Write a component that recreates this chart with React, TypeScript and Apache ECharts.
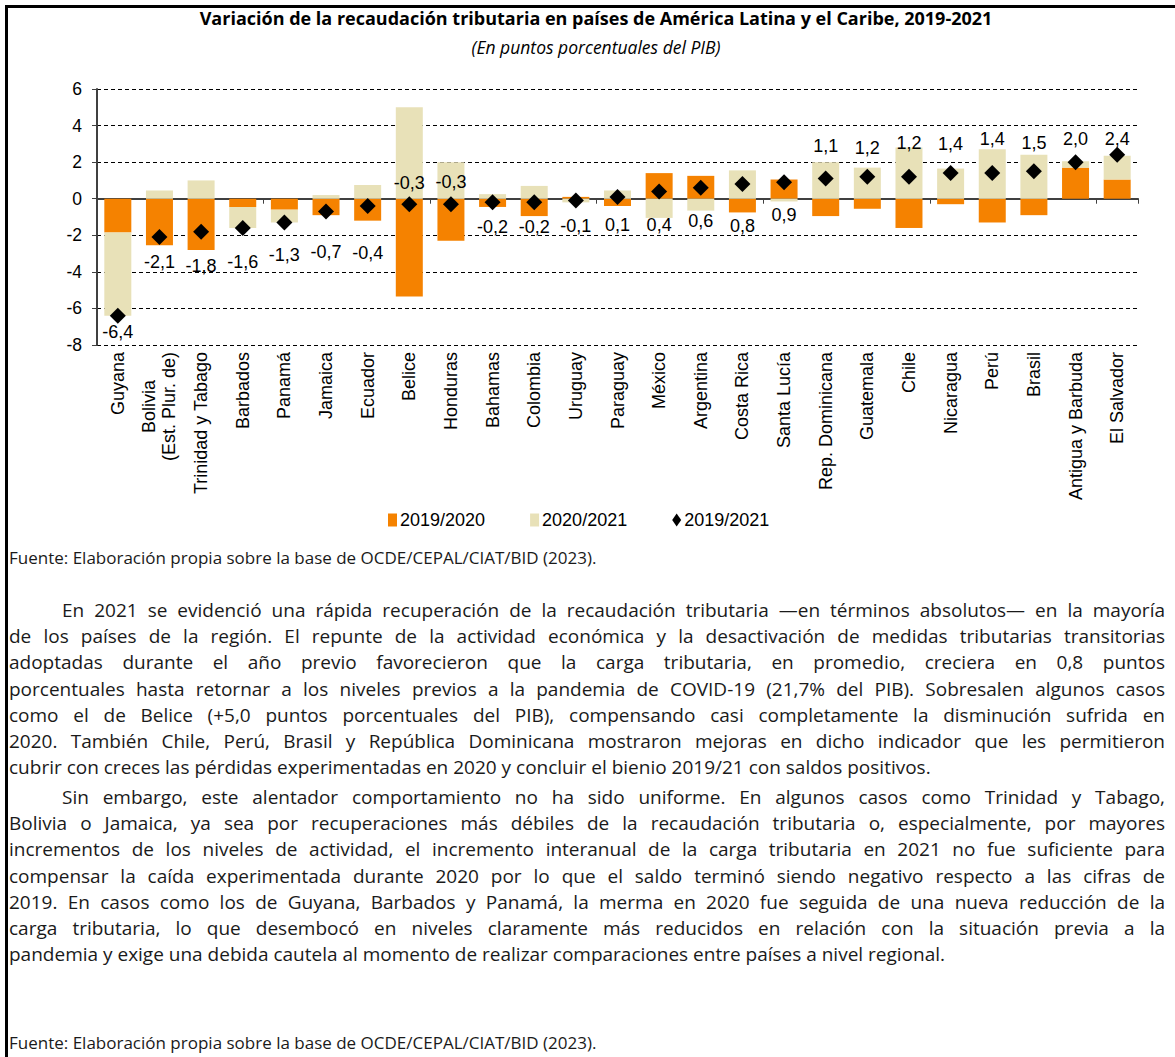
import React, { useEffect, useRef } from "react";
import * as echarts from "echarts";

const categories = [
  "Guyana", "Bolivia\n(Est. Plur. de)", "Trinidad y Tabago", "Barbados", "Panamá", "Jamaica",
  "Ecuador", "Belice", "Honduras", "Bahamas", "Colombia", "Uruguay", "Paraguay", "México",
  "Argentina", "Costa Rica", "Santa Lucía", "Rep. Dominicana", "Guatemala", "Chile",
  "Nicaragua", "Perú", "Brasil", "Antigua y Barbuda", "El Salvador",
];

const change2019_2020 = [
  -1.85, -2.55, -2.8, -0.45, -0.6, -0.9, -1.2, -5.35, -2.3, -0.45, -0.95, 0.1, -0.4, 1.4,
  1.25, -0.75, 1.05, -0.95, -0.55, -1.6, -0.3, -1.3, -0.9, 1.7, 1.05,
];

const change2020_2021 = [
  -4.55, 0.45, 1.0, -1.15, -0.7, 0.2, 0.75, 5.0, 2.0, 0.25, 0.7, -0.2, 0.45, -1.05,
  -0.65, 1.55, -0.15, 2.0, 1.7, 2.8, 1.65, 2.7, 2.4, 0.35, 1.3,
];

const change2019_2021 = [
  -6.4, -2.1, -1.8, -1.6, -1.3, -0.7, -0.4, -0.3, -0.3, -0.2, -0.2, -0.1, 0.1, 0.4,
  0.6, 0.8, 0.9, 1.1, 1.2, 1.2, 1.4, 1.4, 1.5, 2.0, 2.4,
];

// vertical nudge (px) of each 2019/2021 value label relative to its marker
const labelNudgePx = [
  16, 25, 34, 34, 33, 40, 47, -21, -22, 25, 25, 25, 28, 34, 33, 42, 33,
  -33, -29, -34, -29, -34, -28, -23, -16,
];

const yTicks = { min: -8, max: 6, interval: 2 };

const seriesNames = ["2019/2020", "2020/2021", "2019/2021"];

const titleText = "Variación de la recaudación tributaria en países de América Latina y el Caribe, 2019-2021";
const subtitleText = "(En puntos porcentuales del PIB)";
const sourceText = "Fuente: Elaboración propia sobre la base de OCDE/CEPAL/CIAT/BID (2023).";

const para1 = [
  "En 2021 se evidenció una rápida recuperación de la recaudación tributaria —en términos absolutos— en la mayoría",
  "de los países de la región. El repunte de la actividad económica y la desactivación de medidas tributarias transitorias",
  "adoptadas durante el año previo favorecieron que la carga tributaria, en promedio, creciera en 0,8 puntos",
  "porcentuales hasta retornar a los niveles previos a la pandemia de COVID-19 (21,7% del PIB). Sobresalen algunos casos",
  "como el de Belice (+5,0 puntos porcentuales del PIB), compensando casi completamente la disminución sufrida en",
  "2020. También Chile, Perú, Brasil y República Dominicana mostraron mejoras en dicho indicador que les permitieron",
  "cubrir con creces las pérdidas experimentadas en 2020 y concluir el bienio 2019/21 con saldos positivos.",
];

const para2 = [
  "Sin embargo, este alentador comportamiento no ha sido uniforme. En algunos casos como Trinidad y Tabago,",
  "Bolivia o Jamaica, ya sea por recuperaciones más débiles de la recaudación tributaria o, especialmente, por mayores",
  "incrementos de los niveles de actividad, el incremento interanual de la carga tributaria en 2021 no fue suficiente para",
  "compensar la caída experimentada durante 2020 por lo que el saldo terminó siendo negativo respecto a las cifras de",
  "2019. En casos como los de Guyana, Barbados y Panamá, la merma en 2020 fue seguida de una nueva reducción de la",
  "carga tributaria, lo que desembocó en niveles claramente más reducidos en relación con la situación previa a la",
  "pandemia y exige una debida cautela al momento de realizar comparaciones entre países a nivel regional.",
];

const ORANGE = "#F58200";
const BEIGE = "#E8E1B8";
const CHART_FONT = "'Liberation Sans', Arial, sans-serif";
const TEXT_FONT = "'Open Sans', 'Noto Sans', sans-serif";

const fmt = (v: number) => v.toFixed(1).replace(".", ",");

// two-line category labels: the shorter first line is padded so both lines look centred
const centreLines = (v: string) => {
  const lines = v.split("\n");
  if (lines.length < 2) return v;
  return `{pad|${lines[0]}}\n${lines.slice(1).join("\n")}`;
};

function Paragraph({ lines, top }: { lines: string[]; top: number }) {
  return (
    <div
      style={{
        position: "absolute",
        left: 9,
        top,
        width: 1156,
        fontFamily: TEXT_FONT,
        fontSize: 19,
        lineHeight: "26.2px",
        color: "#1a1a1a",
      }}
    >
      {lines.map((l, i) => {
        const last = i === lines.length - 1;
        return (
          <div
            key={i}
            style={{
              whiteSpace: "nowrap",
              textAlign: last ? "left" : "justify",
              textAlignLast: last ? "left" : "justify",
              paddingLeft: i === 0 ? 53 : 0,
            }}
          >
            {l}
          </div>
        );
      })}
    </div>
  );
}

export default function App() {
  const ref = useRef<HTMLDivElement>(null);

  useEffect(() => {
    if (!ref.current) return;
    const chart = echarts.init(ref.current, null, { renderer: "svg" });
    const axisText = { fontFamily: CHART_FONT, fontSize: 18, color: "#000" };
    chart.setOption({
      animation: false,
      legend: {
        top: 506,
        left: 383,
        itemWidth: 9,
        itemHeight: 13,
        itemGap: 45,
        textStyle: { ...axisText, padding: [0, 0, 0, -2] },
        data: [
          { name: seriesNames[0], icon: "rect" },
          { name: seriesNames[1], icon: "rect" },
          { name: seriesNames[2], icon: "diamond" },
        ],
      },
      grid: { left: 97, top: 89, width: 1041, height: 256, containLabel: false },
      xAxis: [
        {
          type: "category",
          data: categories,
          position: "bottom",
          axisLine: { show: false, onZero: false },
          axisTick: { show: false },
          axisLabel: {
            ...axisText,
            rotate: 90,
            margin: 7,
            interval: 0,
            lineHeight: 20,
            formatter: centreLines,
            rich: { pad: { ...axisText, lineHeight: 20, padding: [0, 28, 0, 0] } },
          },
        },
        {
          type: "category",
          data: categories,
          position: "top",
          axisLine: { onZero: true, lineStyle: { color: "#404040", width: 2 } },
          axisTick: { show: true, inside: true, length: 5, lineStyle: { color: "#404040", width: 1 } },
          axisLabel: { show: false },
        },
      ],
      yAxis: {
        type: "value",
        min: yTicks.min,
        max: yTicks.max,
        interval: yTicks.interval,
        axisLine: { show: true, onZero: false, lineStyle: { color: "#404040", width: 2 } },
        axisTick: { show: true, length: 5, lineStyle: { color: "#404040" } },
        axisLabel: { ...axisText, fontSize: 17.5, margin: 15 },
        splitLine: { show: true, lineStyle: { color: "#000", type: [4, 3], width: 1 } },
      },
      series: [
        {
          name: seriesNames[0],
          type: "bar",
          stack: "total",
          barWidth: 27,
          itemStyle: { color: ORANGE },
          data: change2019_2020,
        },
        {
          name: seriesNames[1],
          type: "bar",
          stack: "total",
          barWidth: 27,
          itemStyle: { color: BEIGE },
          data: change2020_2021,
        },
        {
          name: seriesNames[2],
          type: "scatter",
          symbol: "diamond",
          symbolSize: [16, 16],
          itemStyle: { color: "#000", opacity: 1 },
          z: 5,
          data: change2019_2021.map((v, i) => ({
            value: v,
            label: { offset: [0, labelNudgePx[i]] },
          })),
          label: {
            show: true,
            position: "inside",
            formatter: (p: any) => fmt(p.value),
            fontFamily: CHART_FONT,
            fontSize: 18,
            color: "#000",
          },
        },
      ],
      graphic: [
        {
          type: "text",
          x: 596,
          y: 18,
          style: {
            text: titleText,
            align: "center",
            verticalAlign: "middle",
            font: `bold 18px ${TEXT_FONT}`,
            fill: "#000",
          },
        },
        {
          type: "text",
          x: 596,
          y: 47,
          style: {
            text: subtitleText,
            align: "center",
            verticalAlign: "middle",
            font: `italic 17.5px ${TEXT_FONT}`,
            fill: "#000",
          },
        },
        {
          type: "text",
          x: 9,
          y: 557,
          style: {
            text: sourceText,
            verticalAlign: "middle",
            font: `17px ${TEXT_FONT}`,
            fill: "#1a1a1a",
          },
        },
      ],
    });
    return () => chart.dispose();
  }, []);

  return (
    <div
      style={{
        position: "absolute",
        left: 0,
        top: 0,
        width: 1175,
        height: 1057,
        background: "#fff",
        overflow: "hidden",
      }}
    >
      <div ref={ref} style={{ position: "absolute", left: 0, top: 0, width: 1175, height: 580 }} />
      <div
        style={{
          position: "absolute",
          left: 5,
          top: 5,
          width: 1175,
          height: 1057,
          borderLeft: "3px solid #000",
          borderTop: "3px solid #000",
          pointerEvents: "none",
        }}
      />
      <Paragraph lines={para1} top={597} />
      <Paragraph lines={para2} top={784} />
      <div
        style={{
          position: "absolute",
          left: 9,
          top: 1031,
          fontFamily: TEXT_FONT,
          fontSize: 17,
          lineHeight: "24px",
          color: "#1a1a1a",
          whiteSpace: "nowrap",
        }}
      >
        {sourceText}
      </div>
    </div>
  );
}
